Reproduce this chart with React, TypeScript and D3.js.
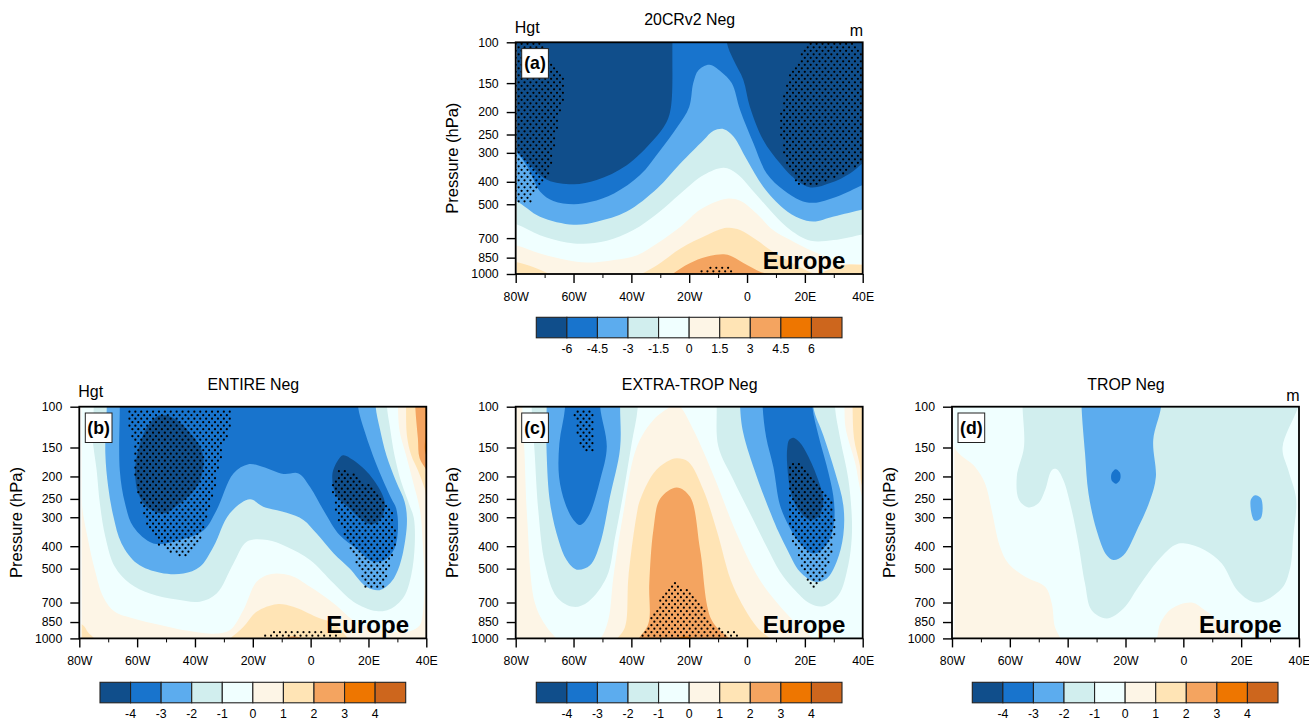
import { useEffect, useRef } from 'react'
import * as d3 from 'd3'

type Pt = [number, number]

// lon, hPa. Curves run across the section; the colder side lies above them
const pressureTicks = [100, 150, 200, 250, 300, 400, 500, 700, 850, 1000]
const lonMajor = [-80, -60, -40, -20, 0, 20, 40]
const lonMinor = [-70, -50, -30, -10, 10, 30]

const colors = ['#104e8b', '#1874cd', '#5cacee', '#d1eeee', '#f0ffff', '#fdf5e6', '#ffe4b5', '#f4a460', '#ee7600', '#cd661d']
const levelsA = [-6, -4.5, -3, -1.5, 0, 1.5, 3, 4.5, 6]
const levelsB = [-4, -3, -2, -1, 0, 1, 2, 3, 4]

// (a) 20CRv2
const a3: Pt[] = [[-95, 1200], [-30, 1100], [-26, 1005], [-20, 900], [-14, 842], [-8, 822], [-5, 842], [0, 915], [4.5, 978], [8.5, 1010], [12, 1100], [50, 1200]]
const a15: Pt[] = [[-90, 860], [-80, 887], [-74, 932], [-68, 1005], [-62, 1100], [-45, 1100], [-37, 1005], [-31, 915], [-23, 776], [-14, 680], [-7, 632], [-2.4, 646], [3.3, 714], [9, 802], [16, 900], [24, 995], [28, 960], [31, 932], [35.6, 910], [40, 915], [45, 915]]
const a0: Pt[] = [[-90, 720], [-80, 751], [-71.6, 816], [-62.4, 870], [-55.4, 893], [-46, 870], [-38, 830], [-31, 737], [-23, 625], [-16, 525], [-7, 473], [-2.4, 483], [3.3, 548], [9, 646], [15, 714], [20.6, 776], [28.7, 857], [32, 896], [40, 905], [45, 905]]
const am15: Pt[] = [[-90, 580], [-80, 609], [-71.6, 680], [-62.4, 731], [-56.6, 741], [-48.5, 719], [-39.3, 646], [-31, 548], [-23, 449], [-15, 374], [-8, 348], [-3.6, 368], [3.3, 456], [9, 548], [15, 646], [22, 719], [30, 714], [40, 675], [45, 660]]
const am3: Pt[] = [[-90, 450], [-80, 484], [-71.6, 566], [-60, 613], [-52, 595], [-41.6, 538], [-31, 427], [-23, 333], [-15, 264], [-11.6, 241], [-8, 237], [-4.7, 255], [0, 322], [5.6, 420], [12.6, 521], [18.3, 576], [23, 594], [30, 565], [40, 527], [45, 510]]
const am45: Pt[] = [[-90, 240], [-80, 296], [-76, 344], [-71.6, 440], [-67, 484], [-60, 500], [-54, 488], [-46, 449], [-37, 374], [-30, 292], [-24, 231], [-20, 190], [-18.6, 150], [-16.8, 132], [-13, 125], [-9, 134], [-5.3, 150], [-2.4, 196], [2.2, 273], [6.8, 368], [12.6, 434], [18.3, 480], [23, 493], [31, 464], [40, 413], [45, 390]]
const am6: Pt[] = [[-90, 240], [-80, 292], [-75, 339], [-69, 393], [-60, 410], [-52, 393], [-41.6, 339], [-32.4, 264], [-28, 223], [-26.3, 190], [-25.8, 100], [-25.6, 70], [-7, 70], [-7, 100], [-4.7, 119], [-1.3, 145], [1, 190], [5.6, 264], [11.4, 333], [17, 393], [22, 423], [29, 404], [35.6, 368], [40, 333], [45, 300]]
const aDotsLeft: Pt[] = [[-81, 100], [-70.5, 100], [-69, 115], [-63.5, 141], [-62.6, 161], [-64.7, 203], [-66.4, 273], [-68, 356], [-70.4, 413], [-75, 488], [-81, 488]]
const aDotsRight: Pt[] = [[21, 100], [36.8, 100], [41, 112], [41, 333], [34.5, 362], [24, 417], [17.7, 413], [13.7, 333], [11.2, 247], [11.4, 203], [13.7, 145], [20.6, 104]]
const aDotsHump: Pt[] = [[-17.5, 1005], [-14, 940], [-6, 940], [-5, 1005]]
const aDotsSmall: Pt[] = [[4, 1005], [5, 975], [9, 975], [10, 1005]]

// (b) ENTIRE
const b2: Pt[] = [[-90, 1100], [-12, 1100], [-9.4, 1005], [-6, 978], [-2.5, 1005], [1, 1100], [30, 1300], [45, 1300], [45, 260], [40.5, 192], [37.7, 167], [37.1, 137], [36.2, 100], [36.2, 80]]
const b1: Pt[] = [[-90, 800], [-78.8, 875], [-77, 940], [-74.6, 1005], [-72, 1100], [-32, 1100], [-28, 1005], [-23.3, 893], [-18.7, 768], [-11.7, 712], [-6, 731], [2, 808], [8, 863], [12.5, 986], [15, 1100], [30, 1300], [45, 1300], [45, 300], [40.5, 257], [39.4, 225], [37.1, 188], [34.8, 162], [33.3, 133], [33, 100], [33, 80]]
const b0: Pt[] = [[-79.2, 80], [-79.2, 200], [-79, 270], [-77.2, 364], [-74.6, 508], [-71.7, 662], [-67.7, 768], [-61.3, 820], [-52, 875], [-43, 925], [-33.6, 954], [-28, 923], [-23.3, 756], [-18.7, 570], [-14, 528], [-7, 535], [-0.2, 599], [8, 707], [14.8, 835], [20.6, 900], [28.6, 935], [34.5, 930], [37.7, 880], [38.6, 810], [39.4, 589], [38.8, 395], [37.9, 284], [35.4, 211], [33, 162], [30.8, 128], [30.2, 100], [30.2, 80]]
const bm1: Pt[] = [[-75, 80], [-75, 100], [-75.4, 135], [-74, 188], [-72.9, 261], [-71, 364], [-67.7, 491], [-62.5, 580], [-55.6, 640], [-46.3, 680], [-38.3, 694], [-32.5, 640], [-26.7, 475], [-22, 382], [-15, 376], [-8.3, 402], [-0.2, 459], [8, 580], [14.8, 694], [22.7, 762], [27.3, 749], [32.2, 662], [34.8, 532], [36, 395], [35.7, 303], [34.2, 266], [31.3, 211], [29, 162], [27.3, 120], [26.4, 100], [26.4, 80]]
const bm2: Pt[] = [[-70.5, 80], [-70.5, 100], [-71, 159], [-70, 222], [-68.2, 298], [-65.4, 389], [-60, 475], [-52, 521], [-44, 525], [-38.3, 491], [-33.6, 402], [-28, 289], [-21, 251], [-16.4, 270], [-8.3, 287], [-2.5, 308], [2, 352], [8, 430], [13.5, 499], [19.3, 599], [23.9, 619], [27.9, 570], [30.8, 483], [32.8, 370], [33.3, 303], [32.5, 257], [29.6, 211], [26.2, 162], [23.9, 124], [22.5, 100], [22.5, 80]]
const bm3: Pt[] = [[-66, 80], [-66, 100], [-66, 188], [-64.2, 261], [-61.3, 330], [-54.4, 389], [-45.2, 376], [-37, 341], [-32.5, 279], [-26.7, 194], [-21.5, 177], [-16.4, 182], [-9.4, 195], [-4.2, 194], [-0.2, 222], [4.4, 279], [10, 358], [15.8, 409], [21.6, 467], [25.6, 459], [29, 409], [30.2, 336], [29.6, 275], [27.9, 249], [23.3, 185], [18.7, 128], [16.4, 100], [16.4, 80]]
const bm4Left: Pt[] = [[-52.1, 109], [-47.5, 112], [-41.7, 130], [-37.7, 154], [-37.1, 182], [-39.4, 222], [-45.2, 261], [-50.9, 289], [-56.7, 270], [-59.6, 237], [-60.7, 188], [-59, 144], [-55.6, 118]]
const bm4Right: Pt[] = [[11.2, 162], [14.7, 170], [21, 201], [25.6, 257], [24.4, 303], [21, 322], [17, 303], [13.5, 275], [8.9, 241], [7.5, 197], [9.5, 170]]
const bWarm: Pt[] = [[39.7, 80], [39.7, 100], [39.7, 130], [39.8, 160], [43, 180]]
const bDotsLeft: Pt[] = [[-63.6, 103], [-26.7, 103], [-27.9, 126], [-30.2, 151], [-32.5, 194], [-33.6, 245], [-36, 308], [-38.3, 376], [-43.5, 452], [-52.1, 402], [-56.1, 341], [-58.4, 279], [-60.7, 207], [-61.3, 149], [-63.6, 114]]
const bDotsRight: Pt[] = [[9.5, 185], [12.4, 185], [18.1, 207], [25, 249], [28.5, 293], [29.6, 370], [28.5, 452], [26.2, 561], [25, 619], [19.3, 619], [16.4, 499], [13.5, 409], [9.5, 314], [8, 257], [7.5, 218]]
const bDotsBottom: Pt[] = [[-18, 1005], [-14, 930], [3.8, 930], [12.5, 1005]]

// (c) EXTRA-TROP
const c2: Pt[] = [[-90, 1200], [-39, 1100], [-37.6, 1010], [-34.1, 863], [-33.8, 580], [-32.4, 341], [-30, 249], [-24.3, 223], [-19.7, 245], [-16.2, 416], [-12.2, 835], [-5.9, 1005], [-2.4, 1100], [45, 1200]]
const c1: Pt[] = [[-90, 1200], [-48, 1100], [-45, 1005], [-42.2, 893], [-41, 542], [-38.1, 289], [-37, 253], [-32.4, 194], [-27.8, 173], [-24.3, 167], [-20.3, 173], [-15.1, 229], [-10.5, 341], [-4.7, 599], [3.4, 893], [8, 1005], [10.3, 1100], [45, 1200], [45, 300], [39.7, 218], [39, 179], [37, 137], [36.5, 100], [36.5, 80]]
const c0: Pt[] = [[-77.7, 80], [-77.7, 100], [-77, 154], [-76, 308], [-73.3, 707], [-69.3, 893], [-65.8, 1005], [-63.5, 1100], [-55.4, 1100], [-50.8, 1005], [-48, 835], [-46.2, 542], [-42.8, 289], [-38.1, 149], [-32.4, 114], [-26.5, 100], [-24.5, 97], [-23, 100], [-18, 130], [-10.5, 214], [-4.1, 341], [4.5, 561], [12.6, 756], [19.5, 923], [23, 1005], [27, 1150], [45, 1200], [45, 300], [40.5, 257], [37.3, 173], [34.1, 124], [33.7, 100], [33.7, 80]]
const cm1Left: Pt[] = [[-74.5, 70], [-74.5, 100], [-73.5, 154], [-72.2, 279], [-69.9, 475], [-65.8, 662], [-60, 731], [-54.9, 694], [-48.5, 542], [-45.6, 364], [-42.8, 237], [-39.9, 144], [-37.8, 101], [-37.8, 70]]
const cm1Right: Pt[] = [[-10.5, 70], [-10.5, 100], [-9.9, 149], [-4.7, 207], [1.6, 298], [6.8, 402], [11.4, 516], [16, 609], [21.8, 707], [26.4, 727], [31.6, 652], [35, 483], [36.2, 370], [36.2, 293], [35, 204], [32.2, 137], [30.4, 100], [30.4, 70]]
const cm2Left: Pt[] = [[-69.3, 70], [-69.3, 100], [-69.3, 159], [-68.1, 261], [-65.2, 376], [-62.4, 459], [-58.9, 505], [-54.3, 483], [-50.8, 389], [-47.4, 245], [-43.9, 151], [-43.9, 100], [-43.9, 70]]
const cm2Right: Pt[] = [[-2.4, 70], [-2.4, 100], [-1.3, 130], [3.4, 201], [9.1, 308], [11.4, 358], [13.7, 409], [18.3, 516], [23.5, 570], [27.5, 553], [31, 467], [33.3, 358], [33.3, 266], [30.4, 191], [26.4, 133], [22.9, 100], [22.9, 70]]
const cm3Left: Pt[] = [[-62.9, 70], [-62.9, 100], [-64.9, 144], [-65, 201], [-62.9, 261], [-60, 308], [-57.7, 324], [-54.9, 298], [-50.8, 207], [-48.5, 149], [-50.8, 100], [-50.8, 70]]
const cm3Right: Pt[] = [[5.4, 70], [5.4, 100], [6.6, 135], [9.1, 182], [11.4, 266], [14.3, 324], [18.3, 389], [22.9, 430], [25.8, 416], [28.7, 370], [30.2, 303], [29.8, 241], [27.5, 179], [24.7, 133], [22.6, 100], [22.6, 70]]
const cm4: Pt[] = [[16, 136], [18.1, 142], [21.2, 164], [25.2, 218], [26.4, 257], [24.7, 298], [21.8, 308], [18.3, 284], [15.4, 241], [13.9, 179], [13.9, 151], [14.6, 139]]
const cWarm: Pt[] = [[-25, 1010], [-23, 985], [-20, 985], [-18, 1010]]
const cDotsLeft: Pt[] = [[-60, 103], [-52.9, 103], [-52.6, 126], [-53.4, 156], [-57.2, 156], [-59.1, 130]]
const cDotsRight: Pt[] = [[15.4, 173], [18.9, 173], [22.4, 194], [25.8, 229], [29.3, 257], [30.4, 303], [30.4, 370], [28.3, 483], [26.4, 570], [23.9, 619], [21.2, 570], [17.7, 452], [15.4, 370], [14.3, 293], [13.9, 204]]
const cDotsBottom: Pt[] = [[-37, 1005], [-32.4, 781], [-26.6, 570], [-23.7, 570], [-17.4, 684], [-11, 878], [-7.6, 923], [-4.1, 923], [-2.6, 1005]]

// (d) TROP
const d0: Pt[] = [[-79.2, 80], [-79.2, 149], [-72, 182], [-68.6, 214], [-66.3, 279], [-63.4, 402], [-60.5, 475], [-54.7, 542], [-47.8, 599], [-45.5, 707], [-44.4, 893], [-42.4, 1005], [-41, 1100], [-11, 1100], [-9.2, 1005], [-8, 863], [-4, 743], [2.9, 700], [7.5, 756], [12, 835], [21.3, 1005], [23.7, 1100], [45, 1200], [45, 80]]
const dm1: Pt[] = [[-55.6, 80], [-55.6, 100], [-55.1, 149], [-57.6, 201], [-56.8, 253], [-53.6, 272], [-50.1, 261], [-47.8, 229], [-45.5, 188], [-43.8, 186], [-41.5, 207], [-38.6, 279], [-36.3, 389], [-34, 580], [-31.7, 756], [-26.5, 820], [-20.7, 743], [-15.5, 599], [-8.6, 459], [-2.9, 395], [0.6, 389], [7.5, 416], [13.3, 475], [19, 627], [25.4, 700], [34, 609], [36.9, 499], [38, 364], [39, 249], [36.3, 188], [34.3, 150], [39.6, 101], [41, 85]]
const dm2: Pt[] = [[-35.2, 80], [-35.2, 100], [-34, 159], [-32.8, 237], [-30, 341], [-26.5, 438], [-24.2, 459], [-20.7, 438], [-15.5, 330], [-11.5, 253], [-9.5, 201], [-10.4, 139], [-7.7, 100], [-7.7, 80]]
const dm2Small: Pt[] = [[24.8, 241], [26.9, 249], [26.8, 303], [24.6, 310], [23.3, 253]]
const dm3Small: Pt[] = [[-23.4, 186], [-22, 192], [-21.7, 201], [-22.2, 210], [-23.3, 215], [-24.6, 210], [-25, 201], [-24.6, 192]]

type Layer = { level: number; pts: Pt[]; closed?: boolean }

const layersA: Layer[] = [
  { level: 3, pts: a3 }, { level: 1.5, pts: a15 }, { level: 0, pts: a0 }, { level: -1.5, pts: am15 },
  { level: -3, pts: am3 }, { level: -4.5, pts: am45 }, { level: -6, pts: am6 },
]
const layersB: Layer[] = [
  { level: 2, pts: b2 }, { level: 1, pts: b1 }, { level: 0, pts: b0 }, { level: -1, pts: bm1 },
  { level: -2, pts: bm2 }, { level: -3, pts: bm3 }, { level: -4, pts: bm4Left, closed: true },
  { level: -4, pts: bm4Right, closed: true }, { level: 4, pts: bWarm },
]
const layersC: Layer[] = [
  { level: 2, pts: c2 }, { level: 1, pts: c1 }, { level: 0, pts: c0 }, { level: -1, pts: cm1Left },
  { level: -1, pts: cm1Right }, { level: -2, pts: cm2Left }, { level: -2, pts: cm2Right },
  { level: -3, pts: cm3Left }, { level: -3, pts: cm3Right }, { level: -4, pts: cm4, closed: true },
  { level: 4, pts: cWarm, closed: true },
]
const layersD: Layer[] = [
  { level: 0, pts: d0 }, { level: -1, pts: dm1 }, { level: -2, pts: dm2 },
  { level: -2, pts: dm2Small, closed: true }, { level: -3, pts: dm3Small, closed: true },
]

const panels = [
  { id: 'a', title: '20CRv2 Neg', left: 515.7, top: 42.3, baseLevel: 4.5, layers: layersA, dots: [aDotsLeft, aDotsRight, aDotsHump, aDotsSmall], levels: levelsA, barLeft: 536.3, barTop: 317.3, hgt: true, unit: true, gapLon: -79.7 },
  { id: 'b', title: 'ENTIRE Neg', left: 79.3, top: 406.7, baseLevel: 3, layers: layersB, dots: [bDotsLeft, bDotsRight, bDotsBottom], levels: levelsB, barLeft: 100, barTop: 682.3, hgt: true, unit: false, gapLon: -79.2 },
  { id: 'c', title: 'EXTRA-TROP Neg', left: 515.7, top: 406.7, baseLevel: 3, layers: layersC, dots: [cDotsLeft, cDotsRight, cDotsBottom], levels: levelsB, barLeft: 536.3, barTop: 682.3, hgt: false, unit: false, gapLon: -79.6 },
  { id: 'd', title: 'TROP Neg', left: 952, top: 406.7, baseLevel: 1, layers: layersD, dots: [], levels: levelsB, barLeft: 972.3, barTop: 682.3, hgt: false, unit: true, gapLon: -79.2 },
]

const FONT = '"Liberation Sans", Arial, sans-serif'
const plotW = 347
const plotH = 231.7

function lonLabel(d: number) {
  if (d === 0) return '0'
  return d < 0 ? `${-d}W` : `${d}E`
}

function drawPanel(root: SVGGElement, p: (typeof panels)[number]) {
  const g = d3.select(root)
  g.selectAll('*').remove()
  g.attr('font-family', FONT)

  const x = d3.scaleLinear().domain([-80, 40]).range([p.left, p.left + plotW])
  const y = d3.scaleLog().domain([100, 1000]).range([p.top, p.top + plotH])
  const fill = d3.scaleThreshold<number, string>().domain(p.levels).range(colors)

  const clipId = `clip-${p.id}`
  g.append('clipPath').attr('id', clipId).append('rect')
    .attr('x', p.left).attr('y', p.top).attr('width', plotW).attr('height', plotH)

  const plot = g.append('g').attr('clip-path', `url(#${clipId})`)
  plot.append('rect')
    .attr('x', p.left).attr('y', p.top).attr('width', plotW).attr('height', plotH)
    .attr('fill', fill(p.baseLevel - 0.01))

  const open = d3.line<Pt>().x(d => x(d[0])).y(d => y(d[1])).curve(d3.curveCatmullRom.alpha(0.5))
  const shut = d3.line<Pt>().x(d => x(d[0])).y(d => y(d[1])).curve(d3.curveCatmullRomClosed.alpha(0.5))

  p.layers.forEach(layer => {
    let path = layer.closed ? shut(layer.pts) : open(layer.pts)
    if (!layer.closed) {
      const first = layer.pts[0]
      const last = layer.pts[layer.pts.length - 1]
      // shut the cold side round the top, off the plot
      path += `L${x(last[0])},${y(50)}L${x(first[0])},${y(50)}Z`
    }
    plot.append('path').attr('d', path).attr('fill', fill(layer.level - 0.01))
  })

  // thin strip with no data along the western edge
  plot.append('rect')
    .attr('x', x(-80)).attr('y', p.top)
    .attr('width', x(p.gapLon) - x(-80)).attr('height', plotH)
    .attr('fill', '#fbfefe')

  // stippling, staggered grid kept inside each significance region
  const dots: Pt[] = []
  const shapes = p.dots.map(s => s.map(d => [x(d[0]), y(d[1])] as [number, number]))
  d3.range(0, 68).forEach(j => {
    d3.range(0, 60).forEach(i => {
      const px = p.left + i * 5.9 + (j % 2) * 2.95
      const py = p.top + 1.5 + j * 3.5
      if (shapes.some(s => d3.polygonContains(s, [px, py]))) dots.push([px, py])
    })
  })
  plot.selectAll('circle.dot').data(dots).enter().append('circle')
    .attr('class', 'dot')
    .attr('cx', d => d[0]).attr('cy', d => d[1]).attr('r', 1.1)
    .attr('fill', '#000')

  // Frame
  g.append('rect')
    .attr('x', p.left).attr('y', p.top).attr('width', plotW).attr('height', plotH)
    .attr('fill', 'none').attr('stroke', '#000').attr('stroke-width', 1.8)

  // Y axis
  const yAxis = g.append('g').attr('transform', `translate(${p.left},0)`)
    .call(d3.axisLeft(y).tickValues(pressureTicks).tickFormat(d => String(d)).tickSize(9).tickPadding(8))
  yAxis.select('.domain').remove()
  yAxis.selectAll('line').attr('stroke', '#000').attr('stroke-width', 1.4)
  yAxis.selectAll('text').attr('font-size', 12.3).attr('font-family', FONT).attr('fill', '#000')

  // X axis
  const xAxis = g.append('g').attr('transform', `translate(0,${p.top + plotH})`)
    .call(d3.axisBottom(x).tickValues(lonMajor).tickFormat(d => lonLabel(d as number)).tickSize(9).tickPadding(9))
  xAxis.select('.domain').remove()
  xAxis.selectAll('line').attr('stroke', '#000').attr('stroke-width', 1.4)
  xAxis.selectAll('text').attr('font-size', 12.3).attr('font-family', FONT).attr('fill', '#000')

  const xMinor = g.append('g').attr('transform', `translate(0,${p.top + plotH})`)
    .call(d3.axisBottom(x).tickValues(lonMinor).tickFormat(() => '').tickSize(4))
  xMinor.select('.domain').remove()
  xMinor.selectAll('line').attr('stroke', '#000').attr('stroke-width', 1)

  // Titles
  g.append('text')
    .attr('x', p.left + plotW / 2 + 0.5).attr('y', p.top - 17)
    .attr('text-anchor', 'middle').attr('font-size', 15.9)
    .text(p.title)
  if (p.hgt) {
    g.append('text').attr('x', p.left - 1).attr('y', p.top - 9.5).attr('font-size', 16).text('Hgt')
  }
  if (p.unit) {
    g.append('text').attr('x', p.left + plotW + 0.5).attr('y', p.top - 6)
      .attr('text-anchor', 'end').attr('font-size', 16).text('m')
  }
  g.append('text')
    .attr('transform', `translate(${p.left - 57.5},${p.top + plotH / 2}) rotate(-90)`)
    .attr('text-anchor', 'middle').attr('font-size', 16.5)
    .text('Pressure (hPa)')

  // Panel letter and region name
  g.append('rect')
    .attr('x', p.left + 6).attr('y', p.top + 6.3).attr('width', 26.7).attr('height', 29.5)
    .attr('fill', '#fff').attr('stroke', '#222').attr('stroke-width', 1)
  g.append('text')
    .attr('x', p.left + 19.3).attr('y', p.top + 27)
    .attr('text-anchor', 'middle').attr('font-size', 17.7).attr('font-weight', 'bold')
    .text(`(${p.id})`)
  g.append('text')
    .attr('x', p.left + 247).attr('y', p.top + plotH - 5.5)
    .attr('font-size', 24).attr('font-weight', 'bold')
    .text('Europe')

  // Colour bar
  const barW = 305.7
  const barH = 20.5
  const boxes = d3.scaleBand<number>().domain(d3.range(10)).range([p.barLeft, p.barLeft + barW])
  g.selectAll('rect.box').data(colors).enter().append('rect')
    .attr('class', 'box')
    .attr('x', (_, i) => boxes(i) as number).attr('y', p.barTop)
    .attr('width', boxes.bandwidth()).attr('height', barH)
    .attr('fill', d => d).attr('stroke', '#222').attr('stroke-width', 1.1)
  const edge = d3.scaleLinear().domain([0, 10]).range([p.barLeft, p.barLeft + barW])
  g.selectAll('text.lev').data(p.levels).enter().append('text')
    .attr('class', 'lev')
    .attr('x', (_, i) => edge(i + 1)).attr('y', p.barTop + barH + 15.3)
    .attr('text-anchor', 'middle').attr('font-size', 12.3)
    .text(d => String(d))
}

function Panel({ panel }: { panel: (typeof panels)[number] }) {
  const ref = useRef<SVGGElement>(null)
  useEffect(() => {
    if (ref.current) drawPanel(ref.current, panel)
  }, [panel])
  return <g ref={ref} />
}

export default function App() {
  return (
    <svg width={1309} height={720} style={{ position: 'absolute', left: 0, top: 0, background: '#fff' }}>
      {panels.map(p => <Panel key={p.id} panel={p} />)}
    </svg>
  )
}
